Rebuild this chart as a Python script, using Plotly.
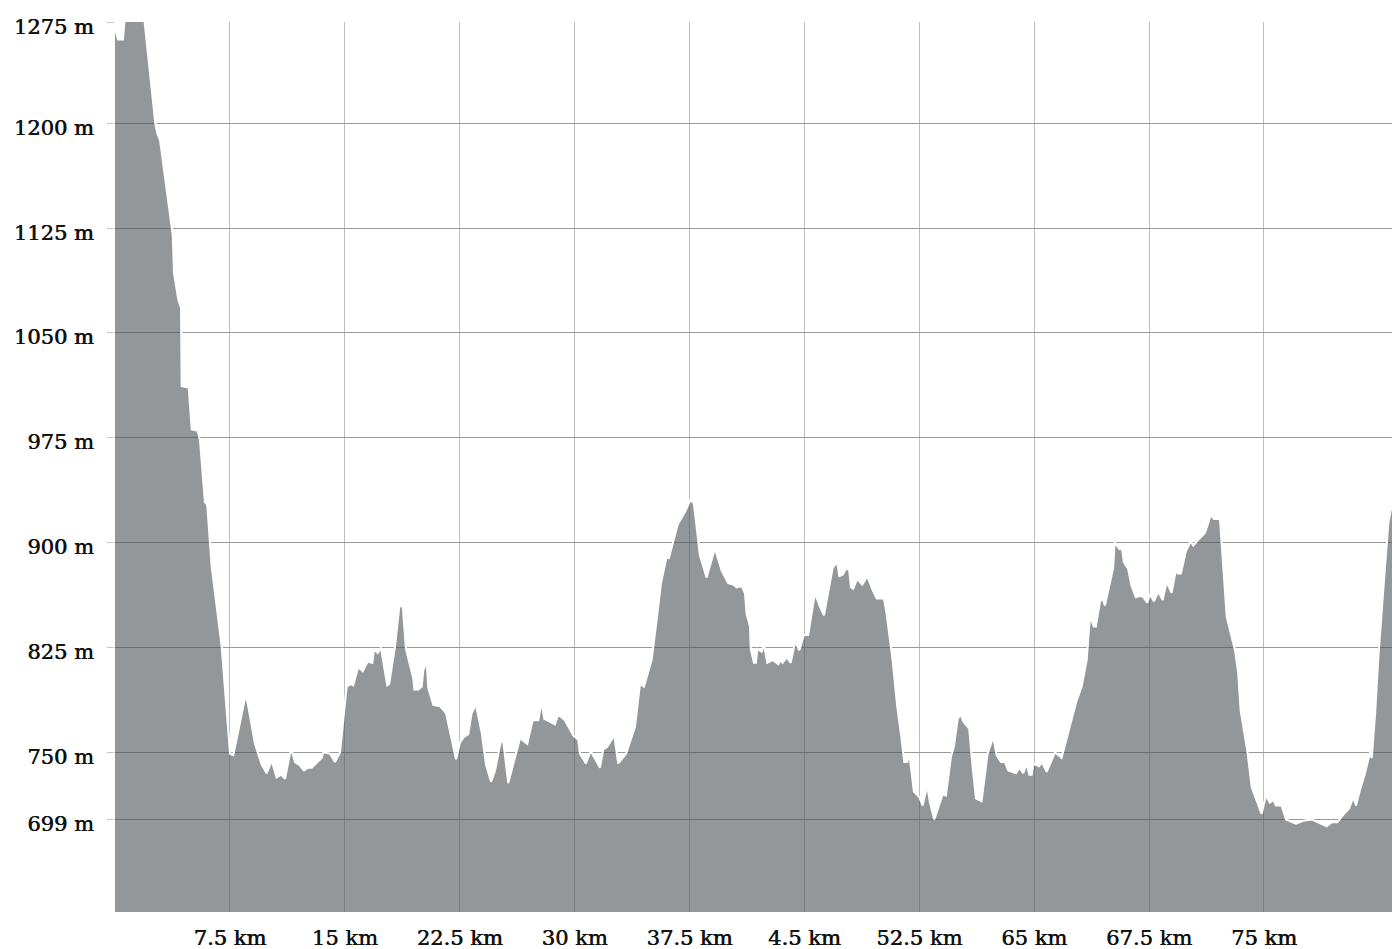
import plotly.graph_objects as go

# Elevation profile of the route
distance_km = [
    0.00, 0.20, 0.52, 0.75, 1.30, 1.85, 2.63, 2.76, 2.94, 3.77, 3.85, 4.13, 4.31, 4.35, 4.81,
    5.01, 5.40, 5.55, 5.87, 6.02, 6.31, 6.96, 7.51, 7.72, 8.55, 9.14, 9.58, 9.90, 10.23, 10.55,
    10.84, 11.10, 11.49, 11.75, 12.03, 12.34, 12.60, 12.84, 13.49, 13.60, 14.04, 14.36, 14.69,
    15.12, 15.39, 15.55, 15.88, 16.17, 16.49, 16.80, 16.91, 17.15, 17.36, 17.77, 17.90, 18.28,
    18.56, 18.78, 18.99, 19.47, 19.54, 19.80, 20.02, 20.13, 20.35, 20.45, 20.78, 21.21, 21.61,
    22.26, 22.52, 22.78, 23.06, 23.28, 23.56, 23.94, 24.22, 24.55, 24.81, 25.13, 25.31, 25.67,
    26.44, 26.91, 27.26, 27.63, 27.85, 28.02, 28.72, 28.93, 29.37, 29.92, 30.24, 30.35, 30.74,
    31.05, 31.66, 31.87, 32.13, 32.59, 32.85, 33.36, 33.94, 34.27, 34.53, 35.03, 35.36, 35.64,
    36.01, 36.16, 36.73, 37.21, 37.58, 37.79, 38.18, 38.62, 39.16, 39.60, 40.03, 40.36, 40.58,
    40.91, 41.12, 41.23, 41.45, 41.50, 41.71, 41.84, 41.93, 42.21, 42.36, 42.58, 42.93, 43.30,
    43.45, 43.58, 43.84, 44.11, 44.39, 44.67, 44.97, 45.25, 45.69, 46.02, 46.28, 46.85, 47.15,
    47.28, 47.50, 47.76, 47.93, 48.04, 48.19, 48.45, 48.78, 49.11, 49.46, 49.72, 50.20, 50.37,
    50.76, 51.06, 51.35, 51.52, 51.72, 51.85, 52.15, 52.50, 52.72, 53.02, 53.20, 53.48, 54.03,
    54.24, 54.57, 54.76, 55.01, 55.22, 55.37, 55.76, 55.98, 56.20, 56.57, 56.96, 57.33, 57.55,
    57.83, 58.09, 58.31, 58.81, 59.03, 59.29, 59.51, 59.68, 59.84, 59.94, 60.33, 60.49, 60.82,
    61.36, 61.79, 62.34, 62.77, 63.10, 63.43, 63.64, 63.90, 64.03, 64.30, 64.47, 64.62, 64.90,
    65.16, 65.25, 65.45, 65.60, 65.71, 65.86, 66.14, 66.36, 66.64, 66.91, 67.12, 67.38, 67.56,
    67.82, 68.10, 68.39, 68.65, 68.97, 69.26, 69.37, 69.58, 69.91, 70.22, 70.39, 70.71, 71.15,
    71.54, 71.74, 72.13, 72.34, 72.57, 73.11, 73.32, 73.48, 73.94, 74.20, 74.56, 74.85, 75.13,
    75.39, 75.61, 75.78, 76.15, 76.44, 77.09, 77.57, 78.11, 78.54, 79.09, 79.42, 79.79, 80.23,
    80.57, 80.83, 81.01, 81.27, 81.60, 81.93, 82.04, 82.26, 82.47, 82.79, 83.12, 83.36,
]

elevation_m = [
    1268, 1260, 1260, 1290, 1292, 1281, 1200, 1193, 1188, 1120, 1093, 1074, 1068, 1012, 1011,
    981, 980, 973, 929, 927, 883, 826, 749, 748, 792, 756, 741, 735, 744, 732,
    734, 731, 753, 743, 741, 737, 739, 739, 746, 750, 749, 743, 750,
    797, 799, 798, 811, 808, 815, 814, 824, 821, 825, 798, 799, 826,
    854, 855, 824, 803, 795, 795, 797, 809, 814, 796, 784, 783, 778,
    745, 757, 761, 763, 778, 784, 764, 741, 729, 737, 755, 761, 728,
    760, 756, 773, 773, 786, 774, 770, 777, 773, 762, 759, 749, 742,
    751, 739, 752, 754, 762, 742, 749, 768, 799, 797, 816, 845, 871,
    890, 889, 913, 922, 931, 928, 891, 875, 896, 880, 871, 870, 868,
    869, 864, 849, 840, 824, 814, 814, 824, 822, 827, 814, 816, 813,
    816, 814, 818, 814, 829, 823, 834, 834, 864, 854, 848, 882, 886,
    876, 877, 882, 880, 868, 867, 874, 870, 876, 866, 860, 860, 849,
    816, 783, 759, 743, 743, 749, 722, 718, 712, 726, 714, 702, 720,
    719, 747, 754, 774, 777, 772, 767, 740, 717, 715, 749, 761, 748,
    743, 743, 737, 735, 739, 735, 742, 734, 734, 742, 740, 743, 736,
    750, 746, 770, 787, 797, 816, 847, 840, 840, 858, 860, 855, 869,
    882, 900, 897, 895, 898, 886, 881, 869, 861, 862, 861, 857, 863,
    858, 865, 859, 872, 864, 881, 878, 878, 894, 901, 898, 902, 907,
    920, 917, 917, 883, 847, 823, 807, 780, 749, 725, 715, 706, 719,
    714, 716, 712, 712, 702, 699, 701, 702, 700, 697, 700, 700, 706,
    710, 718, 712, 723, 735, 750, 746, 778, 818, 866, 914, 928,
]

# Axis ticks
x_tick_values = [7.5, 15, 22.5, 30, 37.5, 45, 52.5, 60, 67.5, 75]
x_tick_labels = ["7.5 km", "15 km", "22.5 km", "30 km", "37.5 km", "4.5 km",
                 "52.5 km", "65 km", "67.5 km", "75 km"]
y_tick_values = [701.6, 750, 825, 900, 975, 1050, 1125, 1200, 1272.3]
y_tick_labels = ["699 m", "750 m", "825 m", "900 m", "975 m", "1050 m",
                 "1125 m", "1200 m", "1275 m"]

x_range = [0, 83.36]
y_range = [635.75, 1272.5]

fig = go.Figure()
fig.add_trace(go.Scatter(
    x=distance_km,
    y=elevation_m,
    mode="lines",
    fill="tozeroy",
    fillcolor="rgba(75,82,85,0.6)",
    line=dict(color="#ffffff", width=2),
    hoverinfo="skip",
    showlegend=False,
))

# Regular serif, thickened slightly with a hairline shadow for a medium weight
tick_font = dict(family="DejaVu Serif", size=21, color="#111111",
                 shadow="0.6px 0px 0px #111111")

fig.update_layout(
    width=1392,
    height=949,
    margin=dict(l=115, r=0, t=22, b=37),
    paper_bgcolor="#ffffff",
    plot_bgcolor="#ffffff",
    font=dict(family="DejaVu Serif", size=21, color="#111111"),
    xaxis=dict(
        range=x_range,
        tickmode="array",
        tickvals=x_tick_values,
        ticktext=x_tick_labels,
        tickfont=tick_font,
        showgrid=True,
        gridcolor="#bdbdbd",
        gridwidth=1,
        zeroline=False,
        showline=False,
        ticks="",
        ticklabelstandoff=11,
        fixedrange=True,
    ),
    yaxis=dict(
        range=y_range,
        tickmode="array",
        tickvals=y_tick_values,
        ticktext=y_tick_labels,
        tickfont=tick_font,
        showgrid=True,
        gridcolor="#999999",
        gridwidth=1,
        zeroline=False,
        showline=False,
        ticks="outside",
        ticklen=7,
        tickcolor="#c4c4c4",
        ticklabelstandoff=9,
        ticklabelshift=4,
        fixedrange=True,
    ),
)

fig.write_html("out.html")
